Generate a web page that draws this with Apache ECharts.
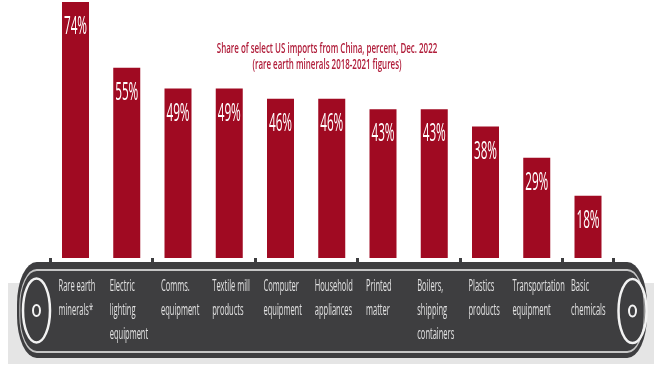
<!DOCTYPE html>
<html>
<head>
<meta charset="utf-8">
<script src="https://cdn.jsdelivr.net/npm/echarts@6/dist/echarts.min.js"></script>
<style>
  html, body { margin: 0; padding: 0; background: #fff; }
  #chart { width: 654px; height: 378px; }
</style>
</head>
<body>
<div id="chart"></div>
<script>
var categories = ['Rare earth\nminerals*', 'Electric\nlighting\nequipment', 'Comms.\nequipment', 'Textile mill\nproducts',
  'Computer\nequipment', 'Household\nappliances', 'Printed\nmatter', 'Boilers,\nshipping\ncontainers',
  'Plastics\nproducts', 'Transportation\nequipment', 'Basic\nchemicals'];
var shares = [74, 55, 49, 49, 46, 46, 43, 43, 38, 29, 18];
var titleLines = ['Share of select US imports from China, percent, Dec. 2022', '(rare earth minerals 2018-2021 figures)'];

var FONT = "'Open Sans', 'Noto Sans', sans-serif";
var SX = 0.47;       // the picture is squeezed sideways, so is its text
var RED = '#a00a22';
var BELT = '#3e3e40';

// width of the longest line of a belt label, after squeezing
var measureCtx = document.createElement('canvas').getContext('2d');
measureCtx.font = "16px " + FONT;
function labelWidth(txt) {
  var w = 0;
  txt.split('\n').forEach(function (line) { w = Math.max(w, measureCtx.measureText(line).width); });
  return w * SX;
}

var chart = echarts.init(document.getElementById('chart'));

var option = {
  animation: false,
  grid: { left: 49.875, right: 40.375, top: 2, bottom: 120 },
  xAxis: {
    type: 'category',
    data: categories,
    axisLine: { show: false },
    axisTick: { show: true, length: 7, lineStyle: { color: BELT, width: 3 } },
    axisLabel: { show: false },
    splitLine: { show: false }
  },
  yAxis: {
    type: 'value',
    min: 0,
    max: 74,
    show: false
  },
  graphic: [
    // pale backdrop behind the belt
    { type: 'rect', z: 0, shape: { x: 8, y: 283, width: 646, height: 81 }, style: { fill: '#e5e5e5' } },
    {
      type: 'group', x: 17, y: 262, scaleX: SX, z: 1,
      children: [
        { type: 'rect', z: 1, shape: { x: 0, y: 0, width: 630 / SX, height: 96, r: 42 }, style: { fill: BELT } },
        { type: 'rect', z: 2, shape: { x: 6, y: 8, width: 630 / SX - 12, height: 82, r: 36 },
          style: { fill: 'none', stroke: '#c6c6c6', lineWidth: 2 } }
      ]
    },
    // wheels
    { type: 'ellipse', z: 3, shape: { cx: 36.5, cy: 310.5, rx: 13.5, ry: 32 }, style: { fill: 'none', stroke: '#f2f2f2', lineWidth: 2.5 } },
    { type: 'ellipse', z: 3, shape: { cx: 36.5, cy: 310.5, rx: 3.5, ry: 5.5 }, style: { fill: 'none', stroke: '#f2f2f2', lineWidth: 2 } },
    { type: 'ellipse', z: 3, shape: { cx: 632.5, cy: 311, rx: 14, ry: 32 }, style: { fill: 'none', stroke: '#f2f2f2', lineWidth: 2.5 } },
    { type: 'ellipse', z: 3, shape: { cx: 632.5, cy: 311, rx: 3.5, ry: 5.5 }, style: { fill: 'none', stroke: '#f2f2f2', lineWidth: 2 } },
    // title
    { type: 'text', z: 5, x: 327, y: 48.5, scaleX: 0.53,
      style: { text: titleLines[0], fill: '#b01c39', fontSize: 15, fontWeight: 600, fontFamily: FONT, align: 'center', verticalAlign: 'middle' } },
    { type: 'text', z: 5, x: 327, y: 65, scaleX: 0.53,
      style: { text: titleLines[1], fill: '#b01c39', fontSize: 15, fontWeight: 600, fontFamily: FONT, align: 'center', verticalAlign: 'middle' } }
  ],
  series: [
    {
      type: 'bar',
      data: shares,
      barWidth: 27,
      z: 2,
      itemStyle: { color: RED }
    },
    {
      // value labels inside bar tops
      type: 'custom',
      z: 6,
      data: shares.map(function (v, i) { return [i, v]; }),
      renderItem: function (params, api) {
        var p = api.coord([api.value(0), api.value(1)]);
        return {
          type: 'text', x: p[0], y: p[1] + 25, scaleX: SX,
          style: { text: api.value(1) + '%', fill: '#ffffff', fontSize: 25, fontFamily: FONT, align: 'center', verticalAlign: 'middle' }
        };
      }
    },
    {
      // category names printed on the belt
      type: 'custom',
      z: 6,
      data: categories.map(function (c, i) { return [i, 0]; }),
      renderItem: function (params, api) {
        var p = api.coord([api.value(0), 0]);
        var txt = categories[params.dataIndex];
        var left = Math.min(p[0] - 17, p[0] + 28 - labelWidth(txt));
        return {
          type: 'text', x: left, y: 274, scaleX: SX,
          style: { text: txt, fill: '#e2e2e2', fontSize: 16, lineHeight: 24, fontFamily: FONT, align: 'left', verticalAlign: 'top' }
        };
      }
    }
  ]
};

chart.setOption(option);
</script>
</body>
</html>
